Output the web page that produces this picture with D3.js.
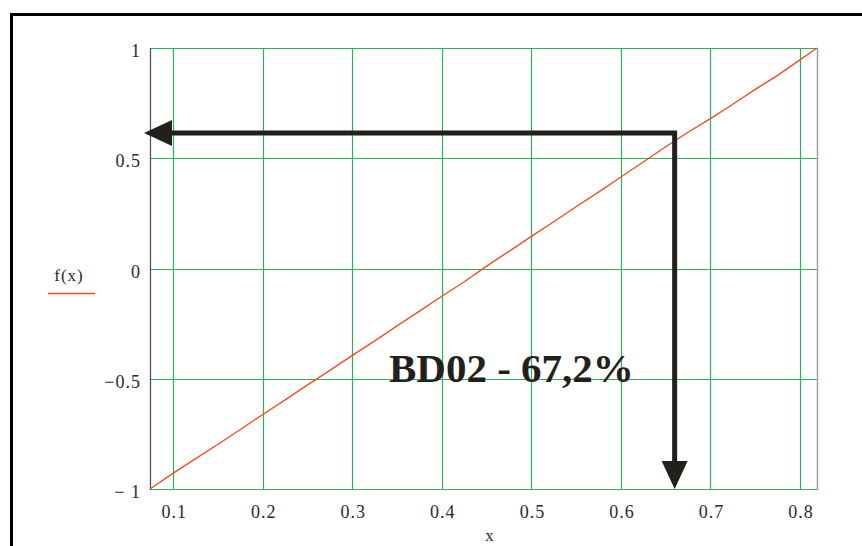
<!DOCTYPE html>
<html>
<head>
<meta charset="utf-8">
<script src="https://cdn.jsdelivr.net/npm/d3@7"></script>
<style>
	body { margin: 0; background: #fff; }
	svg { display: block; }
	.tick-label { font-family: "Liberation Serif", "DejaVu Serif", serif; font-size: 18px; fill: #2a2a2a; letter-spacing: 1px; }
</style>
</head>
<body>
<div id="chartDiv"></div>
<script>
;(function() {

	var width = 862;
	var height = 546;
	var margin = { top: 48, right: 45, bottom: 57, left: 150 };

	// x range shown on the plot (edges of the grid box)
	var xDomain = [0.074, 0.819];
	var yDomain = [-1, 1];

	var xTicks = [0.1, 0.2, 0.3, 0.4, 0.5, 0.6, 0.7, 0.8];
	var xTickLabels = ["0.1", "0.2", "0.3", "0.4", "0.5", "0.6", "0.7", "0.8"];
	var yTicks = [-1, -0.5, 0, 0.5, 1];
	var yTickLabels = ["\u2212 1", "\u22120.5", "0", "0.5", "1"];

	// f(x)
	var xVals = [0.074, 0.1, 0.125, 0.15, 0.175, 0.2, 0.225, 0.25, 0.275, 0.3,
		0.325, 0.35, 0.375, 0.4, 0.425, 0.45, 0.475, 0.5, 0.525, 0.55,
		0.575, 0.6, 0.625, 0.65, 0.675, 0.7, 0.725, 0.75, 0.775, 0.8, 0.819];
	var fVals = [-1, -0.928, -0.862, -0.797, -0.730, -0.662, -0.596, -0.528, -0.462, -0.394,
		-0.328, -0.260, -0.193, -0.126, -0.060, 0.011, 0.078, 0.146, 0.212, 0.280,
		0.346, 0.415, 0.483, 0.552, 0.618, 0.680, 0.745, 0.812, 0.876, 0.946, 1];

	// annotation arrow: corner point and tips
	var arrowCorner = { x: 0.66, y: 0.615 };
	var arrowLeftTipX = 0.0673;
	var arrowDownTipY = -1;
	var annotationText = "BD02 - 67,2%";
	var legendLabel = "f(x)";
	var xAxisLabel = "x";

	var gridColor = "#2fae5f";
	var lineColor = "#ee4f1f";
	var arrowColor = "#231f1c";

	var chartWidth = width - margin.left - margin.right;
	var chartHeight = height - margin.top - margin.bottom;

	var svg = d3.select("#chartDiv").append("svg")
		.attr("width", width)
		.attr("height", height);

	// outer frame (cut off on right and bottom)
	svg.append("rect")
		.attr("x", 11.5).attr("y", 14.5)
		.attr("width", 1000).attr("height", 1000)
		.attr("fill", "none")
		.attr("stroke", "#000")
		.attr("stroke-width", 3);

	var xScale = d3.scaleLinear().domain(xDomain).range([margin.left, margin.left + chartWidth]);
	var yScale = d3.scaleLinear().domain(yDomain).range([margin.top + chartHeight, margin.top]);

	// grid
	var grid = svg.append("g");
	grid.selectAll(".vgrid").data(xTicks).enter().append("line")
		.attr("class", "vgrid")
		.attr("x1", d => Math.round(xScale(d)) + 0.5)
		.attr("x2", d => Math.round(xScale(d)) + 0.5)
		.attr("y1", yScale(1)).attr("y2", yScale(-1))
		.attr("stroke", gridColor).attr("stroke-width", 1.2);

	grid.selectAll(".hgrid").data(yTicks).enter().append("line")
		.attr("class", "hgrid")
		.attr("x1", xScale(xDomain[0])).attr("x2", xScale(xDomain[1]))
		.attr("y1", d => Math.round(yScale(d)) + 0.5)
		.attr("y2", d => Math.round(yScale(d)) + 0.5)
		.attr("stroke", gridColor).attr("stroke-width", 1.2);

	// box edges
	svg.append("line")
		.attr("x1", xScale(xDomain[0]) + 0.5).attr("x2", xScale(xDomain[0]) + 0.5)
		.attr("y1", yScale(1)).attr("y2", yScale(-1) + 1)
		.attr("stroke", "#4a4a4a").attr("stroke-width", 1.2);
	svg.append("line")
		.attr("x1", xScale(xDomain[1]) + 0.5).attr("x2", xScale(xDomain[1]) + 0.5)
		.attr("y1", yScale(1)).attr("y2", yScale(-1) + 1)
		.attr("stroke", "#999").attr("stroke-width", 1.4);

	// tick labels
	svg.selectAll(".xlab").data(xTicks).enter().append("text")
		.attr("class", "tick-label")
		.attr("x", d => xScale(d) + 1)
		.attr("y", yScale(-1) + 29)
		.attr("text-anchor", "middle")
		.text((d, i) => xTickLabels[i]);

	svg.selectAll(".ylab").data(yTicks).enter().append("text")
		.attr("class", "tick-label")
		.attr("x", 141)
		.attr("y", d => yScale(d) + 9)
		.attr("text-anchor", "end")
		.text((d, i) => yTickLabels[i]);

	svg.append("text")
		.attr("class", "tick-label")
		.attr("x", 490)
		.attr("y", 541)
		.attr("text-anchor", "middle")
		.style("font-size", "17px")
		.text(xAxisLabel);

	// legend
	svg.append("text")
		.attr("class", "tick-label")
		.attr("x", 69)
		.attr("y", 281)
		.attr("text-anchor", "middle")
		.style("font-size", "17px")
		.text(legendLabel);
	svg.append("line")
		.attr("x1", 48).attr("x2", 95)
		.attr("y1", 293.5).attr("y2", 293.5)
		.attr("stroke", lineColor).attr("stroke-width", 1.3);

	// f(x) line
	var line = d3.line()
		.x(d => xScale(d[0]))
		.y(d => yScale(d[1]));

	svg.append("path")
		.datum(xVals.map((x, i) => [x, fVals[i]]))
		.attr("d", line)
		.attr("fill", "none")
		.attr("stroke", lineColor)
		.attr("stroke-width", 1.4);

	// annotation text
	svg.append("text")
		.attr("x", 389)
		.attr("y", 382)
		.style("font-family", "'Liberation Serif', 'DejaVu Serif', serif")
		.style("font-weight", "bold")
		.style("font-size", "41px")
		.attr("fill", arrowColor)
		.text(annotationText);

	// arrows
	var headLen = 28;
	var headHalf = 13;
	var cx = xScale(arrowCorner.x);
	var cy = yScale(arrowCorner.y);
	var leftTip = xScale(arrowLeftTipX);
	var downTip = yScale(arrowDownTipY);

	svg.append("path")
		.attr("d", d3.line()([[leftTip + headLen - 2, cy], [cx, cy], [cx, downTip - headLen + 2]]))
		.attr("fill", "none")
		.attr("stroke", arrowColor)
		.attr("stroke-width", 5)
		.attr("stroke-linejoin", "miter")
		.attr("stroke-linecap", "butt");

	svg.append("path")
		.attr("d", d3.line()([[leftTip, cy], [leftTip + headLen, cy - headHalf], [leftTip + headLen, cy + headHalf]]) + "Z")
		.attr("fill", arrowColor);

	svg.append("path")
		.attr("d", d3.line()([[cx, downTip], [cx - headHalf, downTip - headLen], [cx + headHalf, downTip - headLen]]) + "Z")
		.attr("fill", arrowColor);

})();
</script>
</body>
</html>
